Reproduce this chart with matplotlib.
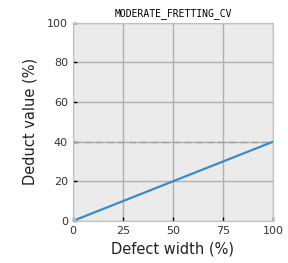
import matplotlib
matplotlib.use("Agg")
import matplotlib.pyplot as plt

defect_width = [2, 25, 50, 75, 100]
deduct_value = [0.8, 10, 20, 30, 40]
threshold = 40
xticks = [0, 25, 50, 75, 100]
yticks = [0, 20, 40, 60, 80, 100]
title = "MODERATE_FRETTING_CV"

fig = plt.figure(figsize=(2.88, 2.63), dpi=100)
ax = fig.add_axes([0.253, 0.16, 0.695, 0.753])
ax.set_facecolor("#ebebeb")
ax.grid(True, color="#b0b0b0", linewidth=1.0)
ax.set_axisbelow(True)
ax.axhline(threshold, color="#a0a0a0", linestyle=(0, (5, 3)), linewidth=1.0, zorder=1.5)
ax.plot(defect_width, deduct_value, color="#3a8cc8", linewidth=1.6, zorder=3)
ax.set_xlim(0, 100)
ax.set_ylim(0, 100)
ax.set_xticks(xticks)
ax.set_yticks(yticks)
ax.tick_params(direction="in", length=3, width=1, labelsize=8, colors="black", labelcolor="#333333")
for s in ax.spines.values():
    s.set_color("#c0c0c0")
ax.set_xlabel("Defect width (%)", fontsize=10.5, labelpad=4, color="#222222")
ax.set_ylabel("Deduct value (%)", fontsize=10.5, labelpad=7, color="#222222")
ax.set_title(title, fontsize=7, family="DejaVu Sans Mono", pad=5)
fig.savefig("out.png", dpi=100)
